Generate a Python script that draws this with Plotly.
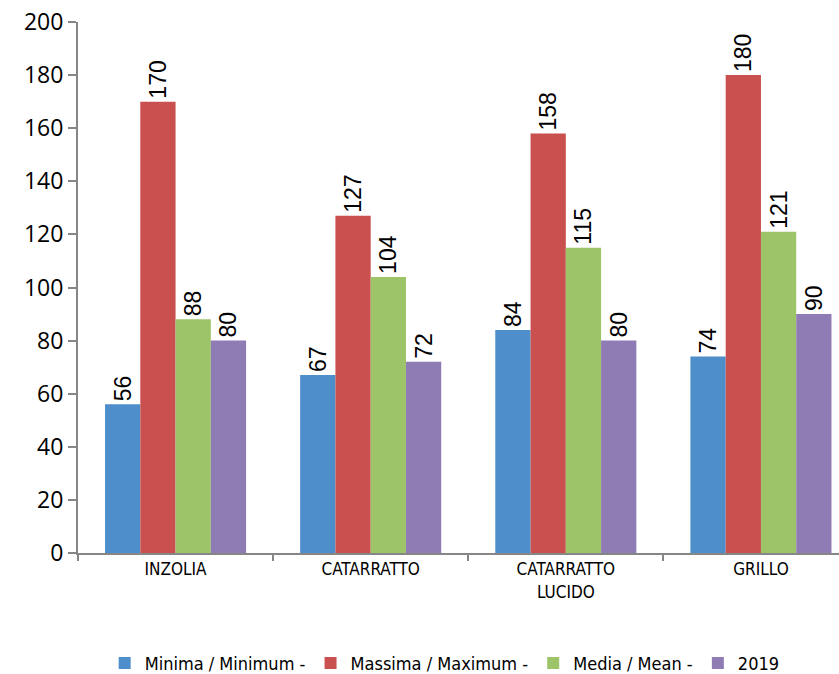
import plotly.graph_objects as go

categories = ["INZOLIA", "CATARRATTO", "CATARRATTO<br>LUCIDO", "GRILLO"]
series_names = ["Minima / Minimum -", "Massima / Maximum -", "Media / Mean -", "2019"]
minima = [56, 67, 84, 74]
massima = [170, 127, 158, 180]
media = [88, 104, 115, 121]
y2019 = [80, 72, 80, 90]
colors = ["#4E8ECB", "#C9504F", "#9DC468", "#8F7CB5"]
y_ticks = [0, 20, 40, 60, 80, 100, 120, 140, 160, 180, 200]

narrow = "Liberation Sans Narrow, DejaVu Sans Condensed, Arial Narrow, sans-serif"

fig = go.Figure()
for name, vals, col in zip(series_names, [minima, massima, media, y2019], colors):
    fig.add_trace(go.Bar(
        x=categories, y=vals, name=name,
        marker=dict(color=col, line=dict(width=0)),
        text=[str(v) for v in vals], textposition="outside", textangle=-90,
        constraintext="none",
        textfont=dict(family="Liberation Sans, Arial, sans-serif", size=23, color="black"),
        cliponaxis=False,
    ))

fig.update_layout(
    width=839, height=674,
    margin=dict(l=78, r=0, t=22, b=121, autoexpand=False),
    paper_bgcolor="white", plot_bgcolor="white",
    barmode="group", bargap=0.277, bargroupgap=0,
    showlegend=True,
    legend=dict(orientation="h", x=0.53, xanchor="center", xref="container",
                y=0.016, yanchor="middle", yref="container",
                font=dict(family=narrow, size=18, color="black"),
                itemsizing="constant", traceorder="normal"),
    xaxis=dict(range=[-0.5, 3.40], showline=True, linecolor="#868686", linewidth=2,
               ticks="outside", tickson="boundaries", ticklen=6, tickcolor="#868686", tickwidth=2,
               tickfont=dict(family=narrow, size=17, color="black"), showgrid=False,
               automargin=False),
    yaxis=dict(range=[0, 200], tickvals=y_ticks, showline=True, linecolor="#868686", linewidth=2,
               ticks="outside", ticklen=8, tickcolor="#868686", tickwidth=2,
               tickfont=dict(family="Open Sans, sans-serif", size=23, color="black"),
               showgrid=False, zeroline=False, automargin=False),
)

fig.write_html("out.html", config={"displayModeBar": False},
               post_script="document.body.style.margin='0';document.body.style.overflow='hidden';")
